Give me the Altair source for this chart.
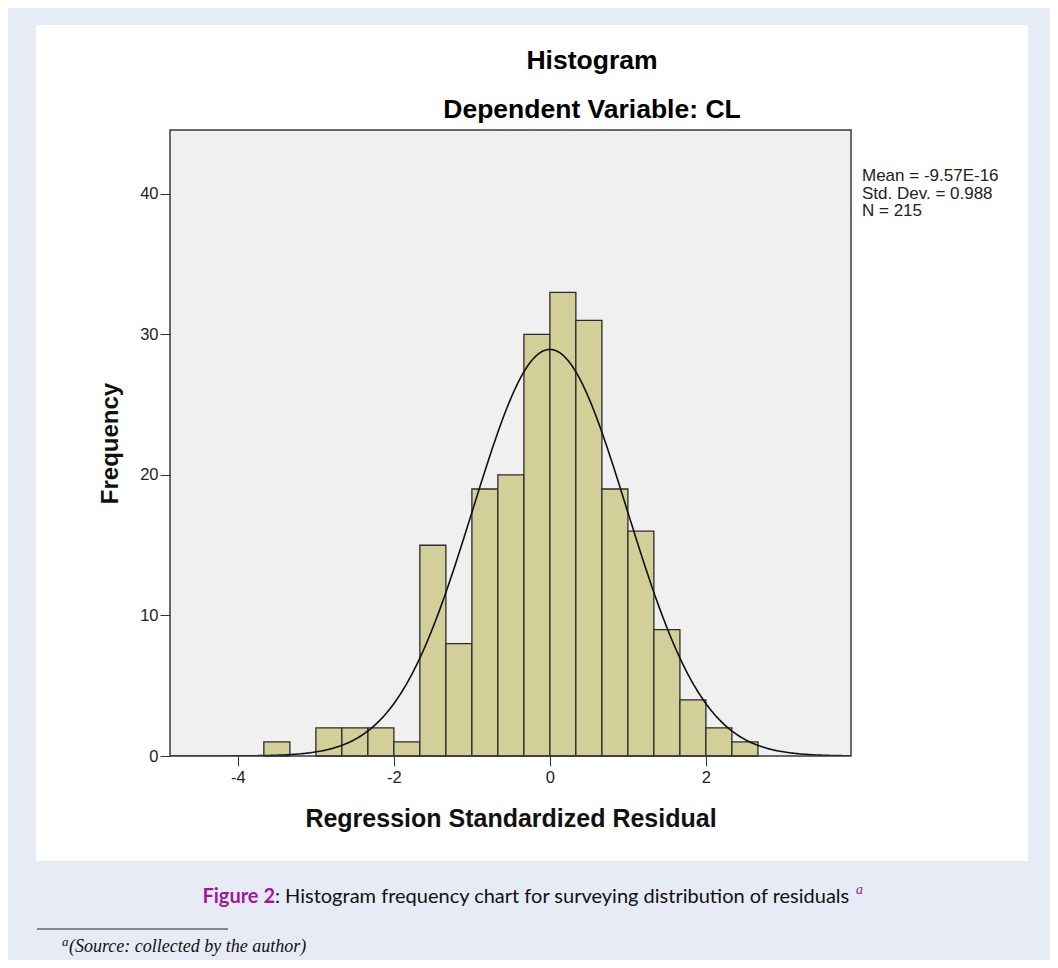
import altair as alt
import pandas as pd

# ---- data ----
bin_left = [-3.667, -3.0, -2.667, -2.333, -2.0, -1.667, -1.333, -1.0, -0.667,
            -0.333, 0.0, 0.333, 0.667, 1.0, 1.333, 1.667, 2.0, 2.333]
bin_right = [-3.333, -2.667, -2.333, -2.0, -1.667, -1.333, -1.0, -0.667, -0.333,
             0.0, 0.333, 0.667, 1.0, 1.333, 1.667, 2.0, 2.333, 2.667]
counts = [1, 2, 2, 2, 1, 15, 8, 19, 20, 30, 33, 31, 19, 16, 9, 4, 2, 1]

mean_val = -9.57e-16
std_dev = 0.988
n_obs = 215
bin_width = 0.3333

x_ticks = [-4, -2, 0, 2]
y_ticks = [0, 10, 20, 30, 40]
stats_lines = ["Mean = -9.57E-16", "Std. Dev. = 0.988", "N = 215"]

title_1 = "Histogram"
title_2 = "Dependent Variable: CL"
x_title = "Regression Standardized Residual"
y_title = "Frequency"
caption_bold = "Figure 2"
caption_rest = ": Histogram frequency chart for surveying distribution of residuals"
footnote = "(Source: collected by the author)"

# ---- layout ----
W, H = 681, 626
SANS = "Liberation Sans, Arial, sans-serif"

bars_df = pd.DataFrame({"left": bin_left, "right": bin_right, "count": counts})

xscale = alt.Scale(domain=[-4.87, 3.86], nice=False, zero=False)
yscale = alt.Scale(domain=[0, 44.55], nice=False, zero=False)

x_axis = alt.Axis(values=x_ticks, title=x_title, labelExpr="datum.value + ''",
                  grid=False, domain=False, tickSize=10, tickColor="#333333",
                  labelFontSize=16.5, labelColor="#222222", labelFont=SANS,
                  labelPadding=3, titleFont=SANS, titleFontSize=25,
                  titleFontWeight="bold", titlePadding=21, titleColor="#111111", zindex=1)
y_axis = alt.Axis(values=y_ticks, title=y_title, grid=False, domain=False,
                  tickSize=10, tickColor="#333333", labelFontSize=16.5,
                  labelColor="#222222", labelFont=SANS, labelPadding=2,
                  titleFont=SANS, titleFontSize=24, titleFontWeight="bold",
                  titlePadding=17, titleColor="#111111", zindex=1)

one = alt.Data(values=[{"k": 1}])


def deco_text(txt, x, y, size, weight="normal", align="left", color="#000000",
              font=SANS, style="normal", baseline="middle"):
    return alt.Chart(one).mark_text(
        text=txt, font=font, fontSize=size, fontWeight=weight, align=align,
        baseline=baseline, color=color, fontStyle=style
    ).encode(x=alt.value(x), y=alt.value(y))


panel = alt.Chart(one).mark_rect(color="#ffffff").encode(
    x=alt.value(-134), x2=alt.value(858), y=alt.value(-105), y2=alt.value(731))
plot_bg = alt.Chart(one).mark_rect(color="#f0f0f0").encode(
    x=alt.value(0), x2=alt.value(W), y=alt.value(0), y2=alt.value(H))

bars = alt.Chart(bars_df).mark_rect(
    fill="#d3cf98", stroke="#2b2b2b", strokeWidth=1.3).encode(
    x=alt.X("left:Q", scale=xscale, axis=x_axis),
    x2="right:Q",
    y=alt.Y("count:Q", scale=yscale, axis=y_axis),
    y2=alt.datum(0),
)

curve = alt.Chart(alt.sequence(-4.87, 3.87, 0.02, as_="x")).transform_calculate(
    y=f"{n_obs}*{bin_width}/({std_dev}*sqrt(2*PI))*exp(-0.5*pow((datum.x-({mean_val}))/{std_dev},2))"
).mark_line(color="#111111", strokeWidth=1.6, clip=True).encode(
    x=alt.X("x:Q", scale=xscale, axis=x_axis),
    y=alt.Y("y:Q", scale=yscale, axis=y_axis),
)

frame = alt.Chart(one).mark_rect(fillOpacity=0, stroke="#3a3a3a", strokeWidth=1.5).encode(
    x=alt.value(0), x2=alt.value(W), y=alt.value(0), y2=alt.value(H))

texts = [
    deco_text(title_1, 422, -69, 26.5, "bold", "center"),
    deco_text(title_2, 422, -20, 26.5, "bold", "center"),
]
for i, line in enumerate(stats_lines):
    texts.append(deco_text(line, 692, 46 + i * 17.5, 17, align="left", color="#222222"))

texts += [
    deco_text(caption_bold, 105, 767, 20, "bold", "right", "#9b1c9b", font="Lato, sans-serif"),
    deco_text(caption_rest, 105, 767, 20, "normal", "left", "#111111", font="Lato, sans-serif"),
    deco_text("a", 686, 760, 14, "normal", "left", "#9b1c9b", font="Liberation Serif, serif", style="italic"),
    deco_text("a", -108, 812, 13, "normal", "left", "#111111", font="Liberation Serif, serif", style="italic"),
    deco_text(footnote, -101, 817, 18, "normal", "left", "#111111", font="Liberation Serif, serif", style="italic"),
]

foot_rule = alt.Chart(one).mark_rule(color="#222222", strokeWidth=1).encode(
    x=alt.value(-133), x2=alt.value(58), y=alt.value(799))

chart = alt.layer(panel, plot_bg, bars, curve, frame, foot_rule, *texts).properties(
    width=W, height=H,
    padding={"left": 162, "top": 122, "right": 199, "bottom": 204},
    autosize=alt.AutoSizeParams(type="none"),
    background="#e7ebf6",
).configure_view(strokeWidth=0)

chart.save("out.html", embed_options={"renderer": "svg", "actions": False})
